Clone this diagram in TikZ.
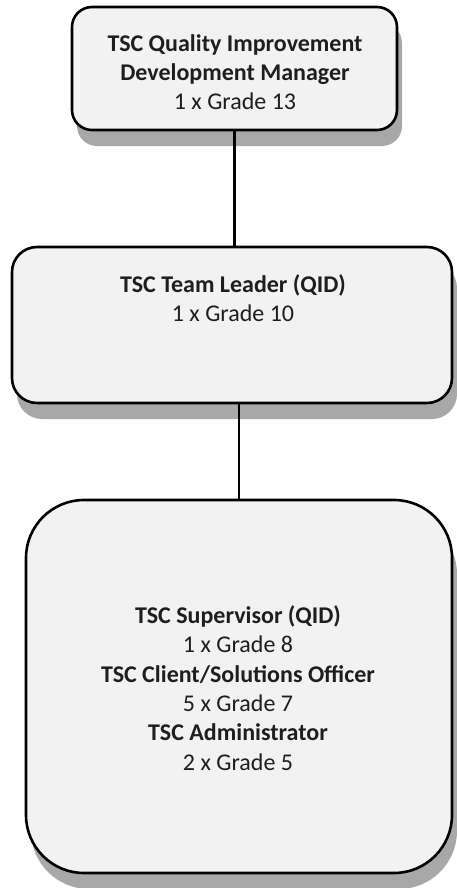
\documentclass[tikz,border=0pt]{standalone}
\usepackage{fontspec}
\setmainfont{Carlito}
\usetikzlibrary{shadows}
\definecolor{boxfill}{HTML}{F2F2F2}
\definecolor{shadowgray}{HTML}{A8A8A8}
\definecolor{txt}{HTML}{1E1E1E}
\begin{document}
\begin{tikzpicture}[x=1pt,y=-1pt,
  box/.style={draw=black, line width=2.6pt, fill=boxfill, rounded corners=#1, inner sep=0pt,
    drop shadow={shadow xshift=5pt, shadow yshift=-16pt, fill=shadowgray, opacity=1}},
  label/.style={align=center, text=txt, inner sep=0pt, font=\fontsize{24}{29.3}\selectfont},
  link/.style={draw=black, line width=2.6pt}]
\useasboundingbox (0,0) rectangle (457,888);
\node[box=20pt, minimum width=325pt, minimum height=123pt] (b1) at (234.5,68.5) {};
\node[box=25pt, minimum width=440pt, minimum height=156pt] (b2) at (232,325) {};
\node[box=58pt, minimum width=426pt, minimum height=373pt] (b3) at (239,686.5) {};
\node[label] (t1) at (235,72) {\textbf{TSC Quality Improvement}\\\textbf{Development Manager}\\1 x Grade 13};
\node[label] (t2) at (233,298) {\textbf{TSC Team Leader (QID)}\\1 x Grade 10};
\node[label] (t3) at (238,688) {\textbf{TSC Supervisor (QID)}\\1 x Grade 8\\\textbf{TSC Client/Solutions Officer}\\5 x Grade 7\\\textbf{TSC Administrator}\\2 x Grade 5};
\draw[link] (b1.south) -- (b1.south |- b2.north);
\draw[link] (b3.north |- b2.south) -- (b3.north);
\end{tikzpicture}
\end{document}
